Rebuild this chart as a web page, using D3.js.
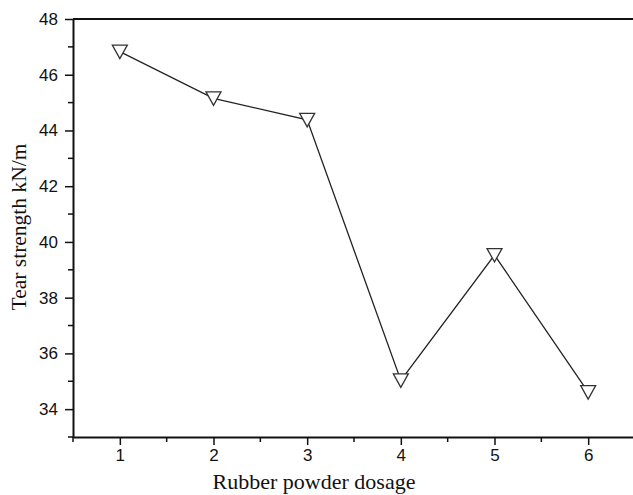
<!DOCTYPE html>
<html>
<head>
<meta charset="utf-8">
<script src="https://cdn.jsdelivr.net/npm/d3@7"></script>
<style>
  body { margin: 0; background: #fff; }
  svg { display: block; }
</style>
</head>
<body>
<div id="chart"></div>
<script>
// chart data
const dosage = [1, 2, 3, 4, 5, 6];
const tearStrength = [46.83, 45.15, 44.38, 35.03, 39.53, 34.61];
const yTicks = [34, 36, 38, 40, 42, 44, 46, 48];
const xTicks = [1, 2, 3, 4, 5, 6];

function drawChart() {
	let width = 633, height = 495;
	let margin = {top: 19, right: -2, bottom: 58, left: 73};

	let svg = d3.select('#chart')
		.append('svg')
		.attr('width', width)
		.attr('height', height);

	let x = d3.scaleLinear()
		.domain([0.5, 6.5])
		.range([margin.left, width - margin.right]);

	let y = d3.scaleLinear()
		.domain([33, 48])
		.range([height - margin.bottom, margin.top]);

	let axisColor = '#111';

	// minor ticks on half steps
	let xMinor = d3.range(0.5, 6.51, 0.5).filter(d => !xTicks.includes(d));
	let yMinor = d3.range(33, 48.01, 1).filter(d => !yTicks.includes(d));

	svg.append('g').selectAll('line')
		.data(xMinor)
		.enter().append('line')
			.attr('x1', d => x(d)).attr('x2', d => x(d))
			.attr('y1', y(33)).attr('y2', y(33) + 5)
			.attr('stroke', axisColor).attr('stroke-width', 1.5);

	svg.append('g').selectAll('line')
		.data(yMinor)
		.enter().append('line')
			.attr('y1', d => y(d)).attr('y2', d => y(d))
			.attr('x1', x(0.5) - 5).attr('x2', x(0.5))
			.attr('stroke', axisColor).attr('stroke-width', 1.5);

	// bottom axis
	let xAxis = svg.append('g')
		.attr('transform', 'translate(0,' + y(33) + ')')
		.call(d3.axisBottom(x).tickValues(xTicks).tickFormat(d3.format('d'))
			.tickSize(8).tickPadding(4).tickSizeOuter(0));

	// left axis
	let yAxis = svg.append('g')
		.attr('transform', 'translate(' + x(0.5) + ',0)')
		.call(d3.axisLeft(y).tickValues(yTicks).tickFormat(d3.format('d'))
			.tickSize(8).tickPadding(7).tickSizeOuter(0));

	[xAxis, yAxis].forEach(function(g) {
		g.select('.domain').attr('stroke', axisColor).attr('stroke-width', 2);
		g.selectAll('.tick line').attr('stroke', axisColor).attr('stroke-width', 1.5);
		g.selectAll('.tick text')
			.attr('fill', '#111')
			.style('font-family', '"Liberation Sans", Arial, sans-serif')
			.style('font-size', '17px');
	});

	// top frame line
	svg.append('line')
		.attr('x1', x(0.5)).attr('x2', width)
		.attr('y1', y(48)).attr('y2', y(48))
		.attr('stroke', axisColor).attr('stroke-width', 2);

	// data line
	let line = d3.line()
		.x((d, i) => x(dosage[i]))
		.y(d => y(d));

	svg.append('path')
		.datum(tearStrength)
		.attr('d', line)
		.attr('fill', 'none')
		.attr('stroke', '#222')
		.attr('stroke-width', 1.3);

	// down triangle markers
	let tri = 'M-7.5,-6.5 L7.5,-6.5 L0,7 Z';
	svg.append('g').selectAll('path')
		.data(tearStrength)
		.enter().append('path')
			.attr('d', tri)
			.attr('transform', (d, i) => 'translate(' + x(dosage[i]) + ',' + y(d) + ')')
			.attr('fill', '#fff')
			.attr('stroke', '#333')
			.attr('stroke-width', 1.3);

	// axis titles
	svg.append('text')
		.attr('x', 314)
		.attr('y', 489)
		.attr('text-anchor', 'middle')
		.style('font-family', '"Liberation Serif", "Times New Roman", serif')
		.style('font-size', '22px')
		.attr('fill', '#111')
		.text('Rubber powder dosage');

	svg.append('text')
		.attr('transform', 'translate(26,227) rotate(-90)')
		.attr('text-anchor', 'middle')
		.style('font-family', '"Liberation Serif", "Times New Roman", serif')
		.style('font-size', '21.5px')
		.attr('fill', '#111')
		.text('Tear strength kN/m');
}

drawChart();
</script>
</body>
</html>
